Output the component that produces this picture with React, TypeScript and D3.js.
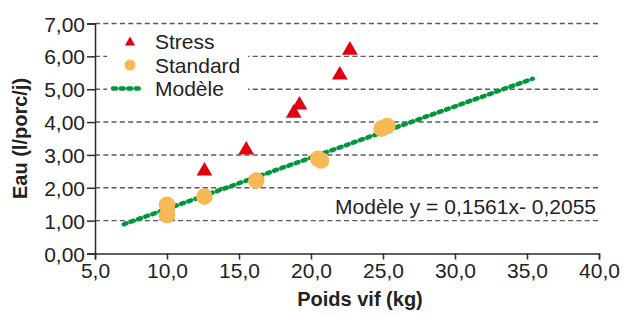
import { useEffect, useRef } from 'react';
import * as d3 from 'd3';

// Points "Stress" (poids vif kg, eau l/porc/j)
const stressX = [10.0, 10.0, 12.6, 15.5, 18.8, 19.2, 22.0, 22.7];
const stressY = [1.45, 1.15, 2.51, 3.15, 4.27, 4.52, 5.43, 6.19];

// Points "Standard"
const standardX = [10.0, 10.0, 12.6, 16.2, 20.5, 20.7, 24.9, 25.3];
const standardY = [1.48, 1.17, 1.73, 2.22, 2.88, 2.83, 3.80, 3.88];

// Droite du modèle (extrémités)
const modelX = [7.0, 35.4];
const modelY = [0.89, 5.32];

const xTicks = [5, 10, 15, 20, 25, 30, 35, 40];
const yTicks = [0, 1, 2, 3, 4, 5, 6, 7];

const legendLabels = ['Stress', 'Standard', 'Modèle'];
const modelLabel = 'Modèle y = 0,1561x- 0,2055';

const RED = '#e3000f';
const ORANGE = '#f7b955';
const GREEN = '#00963c';
const FONT = '"Liberation Sans", Arial, sans-serif';

export default function App() {
  const ref = useRef<SVGSVGElement>(null);

  useEffect(() => {
    const width = 627;
    const height = 316;
    const margin = { top: 23.5, right: 28, bottom: 62.5, left: 95 };
    const innerW = width - margin.left - margin.right;
    const innerH = height - margin.top - margin.bottom;

    const root = d3.select(ref.current);
    root.selectAll('*').remove();
    root.attr('width', width).attr('height', height);

    const g = root.append('g').attr('transform', `translate(${margin.left},${margin.top})`);

    const x = d3.scaleLinear().domain([5, 40]).range([0, innerW]);
    const y = d3.scaleLinear().domain([0, 7]).range([innerH, 0]);

    const fr2 = (v: number) => v.toFixed(2).replace('.', ',');
    const fr1 = (v: number) => v.toFixed(1).replace('.', ',');

    // grille horizontale en pointillés
    g.selectAll('.grid')
      .data(yTicks.filter(t => t > 0))
      .enter().append('line')
      .attr('x1', 0)
      .attr('x2', innerW)
      .attr('y1', d => y(d))
      .attr('y2', d => y(d))
      .attr('stroke', '#5a5a5a')
      .attr('stroke-width', 1.4)
      .attr('stroke-dasharray', '5,3.3');

    // fond blanc de la légende
    g.append('rect')
      .attr('x', 12)
      .attr('y', 4)
      .attr('width', 141)
      .attr('height', 73)
      .attr('fill', '#fff');

    // axes
    const yAxis = g.append('g')
      .call(d3.axisLeft(y).tickValues(yTicks).tickSize(8).tickFormat(d => fr2(+d)));
    const xAxis = g.append('g')
      .attr('transform', `translate(0,${innerH})`)
      .call(d3.axisBottom(x).tickValues(xTicks).tickSize(6).tickFormat(d => fr1(+d)));

    [yAxis, xAxis].forEach(ax => {
      ax.select('.domain').attr('stroke', '#2b2b2b').attr('stroke-width', 1.5);
      ax.selectAll('.tick line').attr('stroke', '#2b2b2b').attr('stroke-width', 1.5);
      ax.selectAll('.tick text')
        .attr('fill', '#222')
        .style('font-family', FONT)
        .style('font-size', '21px');
    });
    yAxis.selectAll('.tick text').attr('x', -10).attr('dy', '0.36em');
    xAxis.selectAll('.tick text').attr('y', 10).attr('dy', '0.71em');

    // droite du modèle
    const modelPts = modelX.map((v, i) => [v, modelY[i]] as [number, number]);
    g.append('path')
      .datum(modelPts)
      .attr('d', d3.line<[number, number]>().x(d => x(d[0])).y(d => y(d[1])))
      .attr('fill', 'none')
      .attr('stroke', GREEN)
      .attr('stroke-width', 4.5)
      .attr('stroke-linecap', 'round')
      .attr('stroke-dasharray', '3,4.6');

    // triangles "Stress"
    const tri = d3.symbol().type(d3.symbolTriangle).size(107);
    g.selectAll('.stress')
      .data(stressX.map((v, i) => [v, stressY[i]]))
      .enter().append('path')
      .attr('d', tri)
      .attr('transform', d => `translate(${x(d[0])},${y(d[1])})`)
      .attr('fill', RED);

    // cercles "Standard"
    g.selectAll('.standard')
      .data(standardX.map((v, i) => [v, standardY[i]]))
      .enter().append('circle')
      .attr('cx', d => x(d[0]))
      .attr('cy', d => y(d[1]))
      .attr('r', 8.3)
      .attr('fill', ORANGE);

    // libellé du modèle
    g.append('text')
      .attr('x', 596 - margin.left)
      .attr('y', 213.5 - margin.top)
      .attr('text-anchor', 'end')
      .attr('fill', '#222')
      .style('font-family', FONT)
      .style('font-size', '21px')
      .text(modelLabel);

    // légende
    const leg = root.append('g');
    const rowY = [41.5, 65, 88.5];
    leg.append('path')
      .attr('d', d3.symbol().type(d3.symbolTriangle).size(45))
      .attr('transform', `translate(130,${rowY[0] + 1})`)
      .attr('fill', RED);
    leg.append('circle')
      .attr('cx', 130).attr('cy', rowY[1]).attr('r', 5.5)
      .attr('fill', ORANGE);
    leg.append('line')
      .attr('x1', 113).attr('x2', 142)
      .attr('y1', rowY[2]).attr('y2', rowY[2])
      .attr('stroke', GREEN)
      .attr('stroke-width', 4.5)
      .attr('stroke-linecap', 'round')
      .attr('stroke-dasharray', '3,4.6');
    leg.selectAll('.lt')
      .data(legendLabels)
      .enter().append('text')
      .attr('x', 155)
      .attr('y', (d, i) => rowY[i])
      .attr('dy', '0.36em')
      .attr('fill', '#222')
      .style('font-family', FONT)
      .style('font-size', '21px')
      .text(d => d);

    // titres des axes
    root.append('text')
      .attr('x', 360)
      .attr('y', 306)
      .attr('text-anchor', 'middle')
      .attr('fill', '#222')
      .style('font-family', FONT)
      .style('font-size', '20px')
      .style('font-weight', 'bold')
      .text('Poids vif (kg)');

    root.append('text')
      .attr('transform', 'translate(26.5,138.5) rotate(-90)')
      .attr('text-anchor', 'middle')
      .attr('fill', '#222')
      .style('font-family', FONT)
      .style('font-size', '20px')
      .style('font-weight', 'bold')
      .text('Eau (l/porc/j)');
  }, []);

  return <svg ref={ref} style={{ position: 'absolute', left: 0, top: 0 }}></svg>;
}
